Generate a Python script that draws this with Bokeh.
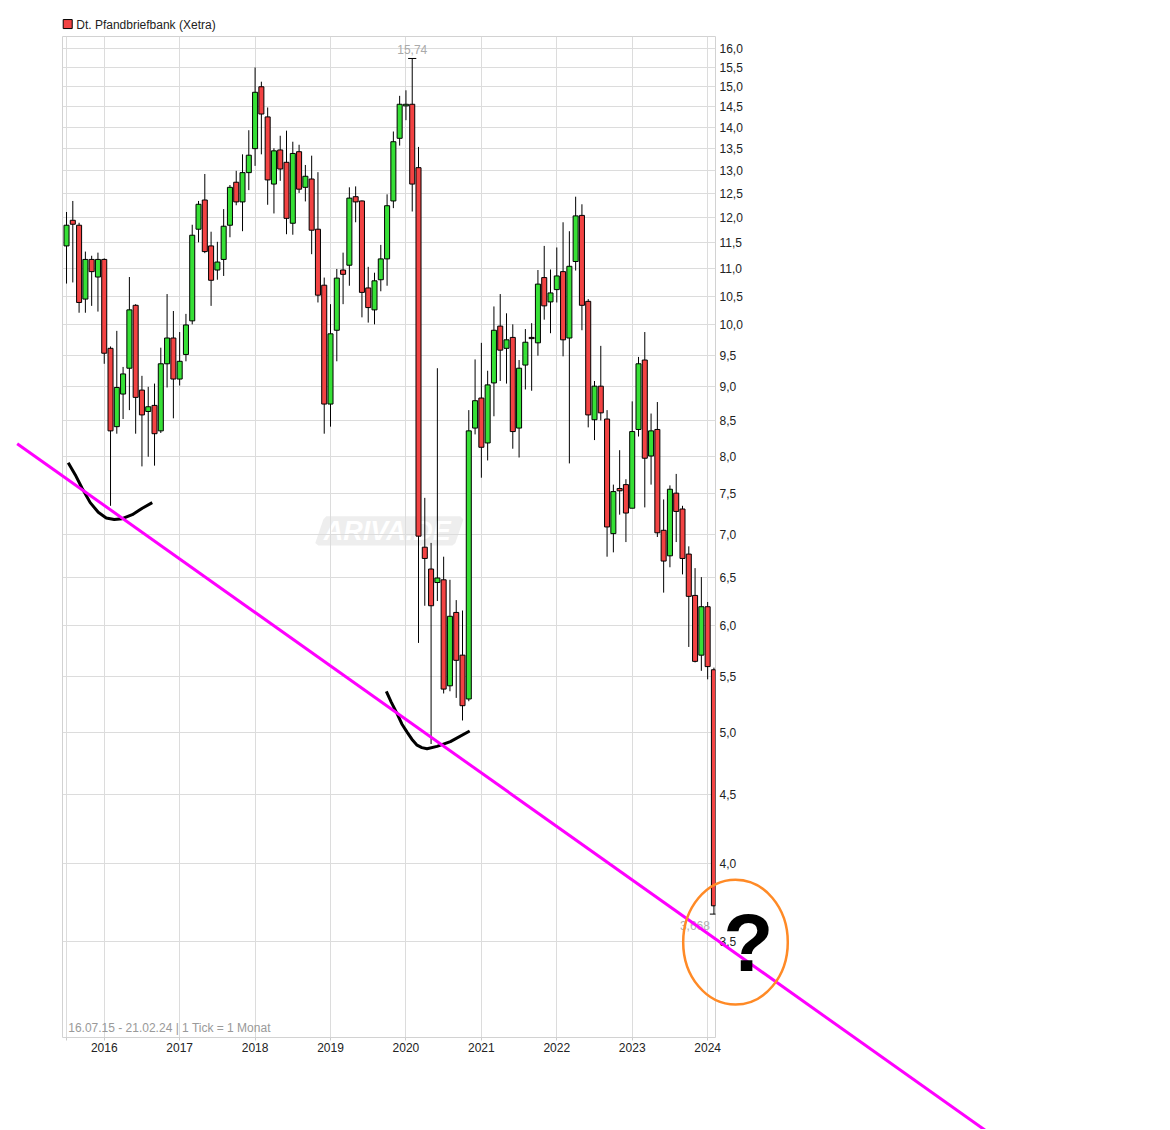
import numpy as np
from bokeh.plotting import figure
from bokeh.models import Range1d, FixedTicker, Label, ColumnDataSource, CustomJSTickFormatter
from bokeh.core.properties import value
from bokeh.embed import file_html
from bokeh.resources import INLINE

# ---------------- data ----------------
title = "Dt. Pfandbriefbank (Xetra)"
footer = "16.07.15 - 21.02.24 | 1 Tick = 1 Monat"

months = ["2015-07", "2015-08", "2015-09", "2015-10", "2015-11", "2015-12"] + \
         [f"{y}-{m:02d}" for y in range(2016, 2024) for m in range(1, 13)] + \
         ["2024-01", "2024-02"]

opens = [11.44, 11.95, 11.85, 10.45, 11.18, 10.85,
         11.18, 9.61, 8.41, 8.89, 9.29, 10.34, 8.95, 8.63, 8.72, 8.35, 9.36, 9.78,
         9.12, 9.51, 10.07, 11.77, 12.37, 11.44, 10.98, 11.18, 11.85, 12.75, 12.33, 12.96,
         13.50, 15.00, 14.25, 12.71, 13.47, 13.19, 11.89, 13.43, 12.64, 12.82, 11.77, 10.70,
         8.74, 9.91, 10.98, 11.07, 12.44, 12.35, 10.65, 10.26, 10.80, 11.19, 12.35, 13.74,
         14.52, 14.56, 13.07, 6.85, 6.60, 6.45, 6.48, 5.41, 6.13, 5.70, 5.29, 8.39,
         8.83, 8.18, 9.06, 9.98, 9.61, 9.79, 8.39, 9.34, 9.79, 9.70, 10.84, 10.40,
         10.62, 10.95, 9.78, 11.14, 12.05, 10.41, 8.51, 9.01, 8.52, 7.01, 7.57, 7.62,
         7.32, 8.37, 9.42, 8.00, 8.37, 7.05, 6.75, 7.51, 7.31, 6.77, 6.31, 5.70,
         6.19, 5.56]
highs = [12.12, 12.35, 11.90, 11.33, 11.25, 11.31,
         11.20, 9.64, 9.90, 9.31, 10.85, 10.36, 9.17, 9.00, 9.05, 9.62, 10.54, 10.24,
         9.88, 10.19, 11.86, 12.35, 12.93, 11.72, 11.52, 12.18, 12.69, 13.00, 13.37, 13.93,
         15.50, 15.13, 14.48, 13.51, 13.80, 13.92, 13.66, 13.59, 13.13, 13.34, 12.97, 10.84,
         10.36, 11.00, 11.31, 12.64, 12.66, 12.36, 11.04, 10.93, 11.46, 12.49, 13.90, 14.77,
         14.91, 15.74, 13.54, 7.45, 6.90, 9.29, 6.74, 6.48, 6.26, 6.15, 8.65, 9.43,
         9.70, 9.25, 10.32, 10.54, 10.20, 10.01, 9.42, 9.93, 10.03, 10.98, 11.44, 10.99,
         11.41, 11.91, 11.73, 12.44, 12.28, 10.45, 9.09, 9.65, 8.65, 7.62, 8.08, 7.69,
         8.78, 9.47, 9.88, 8.60, 8.77, 7.43, 7.61, 7.76, 7.35, 6.86, 6.61, 6.51,
         6.24, 5.58]
lows = [10.73, 10.75, 10.21, 10.21, 10.33, 10.23,
        9.36, 7.35, 8.31, 8.52, 8.65, 8.31, 7.86, 7.99, 7.87, 8.32, 8.99, 8.53,
        9.02, 9.40, 10.01, 11.51, 11.30, 10.33, 10.80, 10.87, 11.61, 12.26, 11.73, 12.58,
        13.11, 13.37, 12.27, 12.09, 12.78, 11.67, 11.66, 12.52, 12.34, 11.28, 10.39, 8.31,
        8.41, 9.40, 10.36, 10.69, 11.91, 10.13, 10.04, 10.01, 10.59, 10.69, 12.20, 13.57,
        14.17, 12.13, 5.82, 6.20, 4.90, 6.25, 5.34, 5.36, 5.30, 5.10, 5.27, 8.30,
        7.71, 7.94, 8.56, 9.09, 9.05, 8.10, 7.98, 8.96, 8.94, 9.49, 10.09, 9.86,
        10.39, 9.48, 7.90, 10.97, 9.91, 8.40, 8.22, 8.50, 6.74, 6.79, 7.24, 6.91,
        7.32, 8.27, 7.33, 7.62, 6.97, 6.34, 6.62, 6.91, 6.54, 5.78, 5.63, 5.55,
        5.47, 3.668]
closes = [11.85, 11.87, 10.39, 11.18, 10.95, 11.18,
          9.53, 8.35, 8.99, 9.20, 10.26, 8.84, 8.58, 8.70, 8.31, 9.36, 9.78, 9.12,
          9.40, 10.00, 11.65, 12.28, 11.33, 10.79, 11.13, 11.83, 12.64, 12.33, 12.96, 13.35,
          14.86, 14.32, 12.80, 13.45, 13.04, 11.99, 13.39, 12.60, 12.88, 11.75, 10.52, 8.74,
          9.85, 10.83, 10.90, 12.41, 12.33, 10.57, 10.30, 10.78, 11.19, 12.25, 13.66, 14.56,
          14.56, 12.71, 6.98, 6.72, 6.20, 6.50, 5.38, 6.09, 5.65, 5.23, 8.35, 8.79,
          8.12, 9.03, 9.91, 9.58, 9.75, 8.34, 9.29, 9.71, 9.77, 10.72, 10.33, 10.56,
          10.87, 9.75, 11.05, 12.04, 10.34, 8.58, 9.01, 8.61, 7.09, 7.53, 7.54, 7.26,
          8.34, 9.36, 7.97, 8.35, 7.02, 6.69, 7.56, 7.28, 6.72, 6.30, 5.64, 6.19,
          5.59, 3.72]

# axis ticks (x in months since Jan 2016)
year_ticks = [-6, 0, 12, 24, 36, 48, 60, 72, 84, 96]
year_labels = ["", "2016", "2017", "2018", "2019", "2020", "2021", "2022", "2023", "2024"]
price_ticks = [3.5, 4.0, 4.5, 5.0, 5.5, 6.0, 6.5, 7.0, 7.5, 8.0, 8.5, 9.0, 9.5, 10.0,
               10.5, 11.0, 11.5, 12.0, 12.5, 13.0, 13.5, 14.0, 14.5, 15.0, 15.5, 16.0]
price_labels = ["3,5", "4,0", "4,5", "5,0", "5,5", "6,0", "6,5", "7,0", "7,5", "8,0",
                "8,5", "9,0", "9,5", "10,0", "10,5", "11,0", "11,5", "12,0", "12,5",
                "13,0", "13,5", "14,0", "14,5", "15,0", "15,5", "16,0"]

# legend / annotation anchors (month index, price)
legend_box_x, legend_box_y = -5.81, 16.69
legend_text_x, legend_text_y = -4.456, 16.676
footer_x, footer_y = -5.73, 3.024
trend_x = [-13.85, 140.2]
trend_y = [8.17, 2.538]
curve1_x = [-5.73, -4.62, -3.50, -2.23, -0.95, 0.32, 1.59, 2.86, 4.46, 6.05, 7.64]
curve1_y = [7.91, 7.75, 7.57, 7.39, 7.27, 7.20, 7.18, 7.19, 7.24, 7.32, 7.39]
curve2_x = [44.88, 45.68, 46.59, 47.35, 48.18, 48.94, 49.77, 50.53, 51.36, 52.95, 55.07, 58.14]
curve2_y = [5.36, 5.26, 5.16, 5.07, 5.00, 4.94, 4.89, 4.87, 4.86, 4.88, 4.92, 5.01]
circle_x, circle_y = 100.43, 3.497
qmark_x, qmark_y = 102.45, 3.497
wm_xs = [35.33, 56.66, 57.14, 55.86, 55.39, 34.06, 33.58, 34.86]
wm_ys = [7.22, 7.22, 7.18, 6.90, 6.87, 6.87, 6.90, 7.18]
wm_text_x, wm_text_y = 45.04, 7.04

GREEN = "#36e036"
RED = "#f24343"
FONT = "Liberation Sans"

# ---------------- derived ----------------
x = np.array([(int(m[:4]) - 2016) * 12 + int(m[5:]) - 1 for m in months], dtype=float)
o = np.array(opens); h = np.array(highs); l = np.array(lows); c = np.array(closes)
up = c >= o
src = ColumnDataSource(dict(x=x, h=h, l=l,
                            top=np.maximum(o, c), bottom=np.minimum(o, c),
                            color=np.where(up, GREEN, RED)))

p = figure(x_range=Range1d(-6.64, 97.25), y_range=Range1d(2.973, 16.34),
           y_axis_type="log", y_axis_location="right",
           frame_width=653, frame_height=1001,
           min_border_left=62, min_border_right=447, min_border_top=36, min_border_bottom=92,
           output_backend="svg", toolbar_location=None,
           background_fill_color="white", border_fill_color="white")
p.outline_line_color = "#d2d2d2"
p.xgrid.grid_line_color = "#dcdcdc"
p.ygrid.grid_line_color = "#dcdcdc"

fmt_code = "const i = vals.findIndex(v => Math.abs(v - tick) < 1e-6); return i >= 0 ? labs[i] : '';"
xa = p.xaxis[0]
xa.ticker = FixedTicker(ticks=year_ticks)
xa.formatter = CustomJSTickFormatter(args=dict(vals=year_ticks, labs=year_labels), code=fmt_code)
xa.axis_line_color = None
xa.major_tick_line_color = "#cccccc"
xa.major_tick_out = 3
xa.major_tick_in = 0
xa.minor_tick_line_color = None
xa.major_label_standoff = 2
xa.major_label_text_font = FONT
xa.major_label_text_font_size = "12px"
xa.major_label_text_color = "#222222"

ya = p.yaxis[0]
ya.ticker = FixedTicker(ticks=price_ticks)
ya.formatter = CustomJSTickFormatter(args=dict(vals=price_ticks, labs=price_labels), code=fmt_code)
ya.axis_line_color = None
ya.major_tick_line_color = None
ya.major_tick_out = 0
ya.major_tick_in = 0
ya.minor_tick_line_color = None
ya.major_label_standoff = 4
ya.major_label_text_font = FONT
ya.major_label_text_font_size = "12px"
ya.major_label_text_color = "#222222"

# watermark
p.patch(wm_xs, wm_ys, fill_color="#eeeeee", line_color=None, level="image")
p.text(x=[wm_text_x], y=[wm_text_y], text=["ARIVA.DE"], text_align="center", text_baseline="middle",
       text_font=value(FONT), text_font_size=value("27px"), text_font_style=value("bold italic"),
       text_color="white", level="image")

# candles
p.segment(x0="x", y0="l", x1="x", y1="h", source=src, line_color="black", line_width=1)
p.vbar(x="x", width=0.8, top="top", bottom="bottom", fill_color="color",
       line_color="black", line_width=1, source=src)

# extremes
imax = int(np.argmax(h)); imin = int(np.argmin(l))
p.segment(x0=[x[imax] - 0.65, x[imin] - 0.65], y0=[h[imax], l[imin]],
          x1=[x[imax] + 0.65, x[imin] + 0.65], y1=[h[imax], l[imin]],
          line_color="black", line_width=1)
p.text(x=[x[imax]], y=[h[imax]], text=[f"{h[imax]:.2f}".replace(".", ",")],
       text_align="center", text_baseline="bottom", y_offset=-4,
       text_font=value(FONT), text_font_size=value("12px"), text_color="#aaaaaa")
p.text(x=[x[imin]], y=[l[imin]], text=[f"{l[imin]:.3f}".replace(".", ",")],
       text_align="center", text_baseline="top", x_offset=-19, y_offset=7,
       text_font=value(FONT), text_font_size=value("12px"), text_color="#b0b0b0")

# footer and legend
p.add_layout(Label(x=footer_x, y=footer_y, text=footer, text_baseline="middle",
                   text_font=FONT, text_font_size="12px", text_color="#999999"))
p.text(x=[legend_text_x], y=[legend_text_y], text=[title], text_baseline="middle",
       text_align="left", text_font=value(FONT), text_font_size=value("12px"),
       text_color="#222222", level="overlay")
p.rect(x=[legend_box_x], y=[legend_box_y], width=9, height=9, width_units="screen",
       height_units="screen", fill_color=RED, line_color="black", line_width=1,
       level="overlay")

# hand-drawn annotations
p.line(curve1_x, curve1_y, line_color="black", line_width=3, level="overlay")
p.line(curve2_x, curve2_y, line_color="black", line_width=3, level="overlay")
p.line(trend_x, trend_y, line_color="#ff00ff", line_width=3, level="overlay")
p.ellipse(x=[circle_x], y=[circle_y], width=104.6, height=125, width_units="screen",
          height_units="screen", fill_color=None, line_color="#ff8a26", line_width=2.5,
          level="overlay")
p.text(x=[qmark_x], y=[qmark_y], text=["?"], text_align="center", text_baseline="middle",
       text_font=value(FONT), text_font_size=value("82px"), text_font_style=value("bold"),
       text_color="black", level="overlay")

open("out.html", "w").write(file_html(p, INLINE))
